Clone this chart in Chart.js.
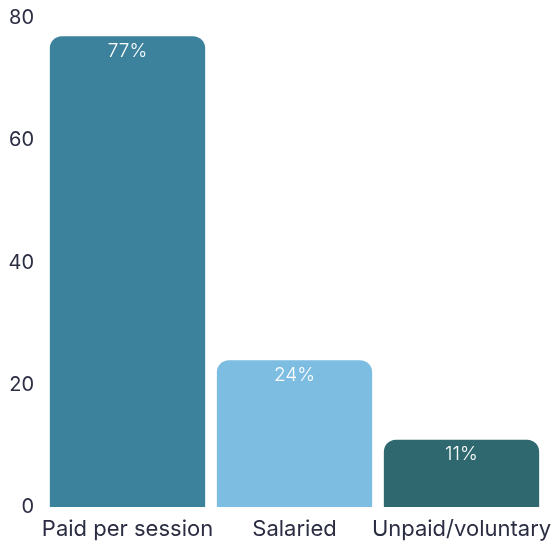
<!DOCTYPE html>
<html>
<head>
<meta charset="utf-8">
<script src="https://cdn.jsdelivr.net/npm/chart.js@4"></script>
<style>
  html, body { margin: 0; padding: 0; background: #fff; }
  #wrap { width: 555px; height: 545px; }
</style>
</head>
<body>
<div id="wrap"><canvas id="c"></canvas></div>
<script>
const CATEGORIES = ['Paid per session', 'Salaried', 'Unpaid/voluntary'];
const VALUES = [77, 24, 11];
const BAR_COLORS = ['#3c829d', '#7ebde2', '#30686f'];
const Y_TICKS = [0, 20, 40, 60, 80];

const FONT = "Inter, 'Open Sans', sans-serif";
const INK = '#2b2d42';

// draws "77%" etc. just inside the top of each bar
const barLabels = {
  id: 'barLabels',
  afterDatasetsDraw(chart) {
    const ctx = chart.ctx;
    const meta = chart.getDatasetMeta(0);
    ctx.save();
    ctx.fillStyle = '#ffffff';
    ctx.font = `300 19px ${FONT}`;
    ctx.textAlign = 'center';
    ctx.textBaseline = 'middle';
    meta.data.forEach((bar, i) => {
      ctx.fillText(VALUES[i] + '%', bar.x, bar.y + 15);
    });
    ctx.restore();
  },
};

new Chart(document.getElementById('c'), {
  type: 'bar',
  data: {
    labels: CATEGORIES,
    datasets: [{
      data: VALUES,
      backgroundColor: BAR_COLORS,
      borderRadius: { topLeft: 12, topRight: 12 },
      borderSkipped: 'bottom',
      barPercentage: 0.93,
      categoryPercentage: 1,
    }],
  },
  options: {
    responsive: true,
    maintainAspectRatio: false,
    animation: false,
    layout: { padding: { top: 18, right: 10, bottom: 0, left: 0 } },
    plugins: { legend: { display: false }, tooltip: { enabled: false } },
    scales: {
      x: {
        grid: { display: false, drawTicks: false },
        border: { display: false },
        ticks: { color: INK, font: { family: FONT, size: 22 }, padding: 9, maxRotation: 0, autoSkip: false },
        // fixed band under the bars; labels may spill past the plot edges
        afterFit: (s) => { s.paddingLeft = 0; s.paddingRight = 0; s.height = 38; },
      },
      y: {
        min: 0,
        max: 80,
        afterBuildTicks: (axis) => { axis.ticks = Y_TICKS.map((v) => ({ value: v })); },
        grid: { display: false, drawTicks: false },
        border: { display: false },
        ticks: { color: INK, font: { family: FONT, size: 20 }, padding: 10 },
        afterFit: (s) => { s.paddingTop = 0; s.paddingBottom = 0; s.width = 44; },
      },
    },
  },
  plugins: [barLabels],
});
</script>
</body>
</html>
